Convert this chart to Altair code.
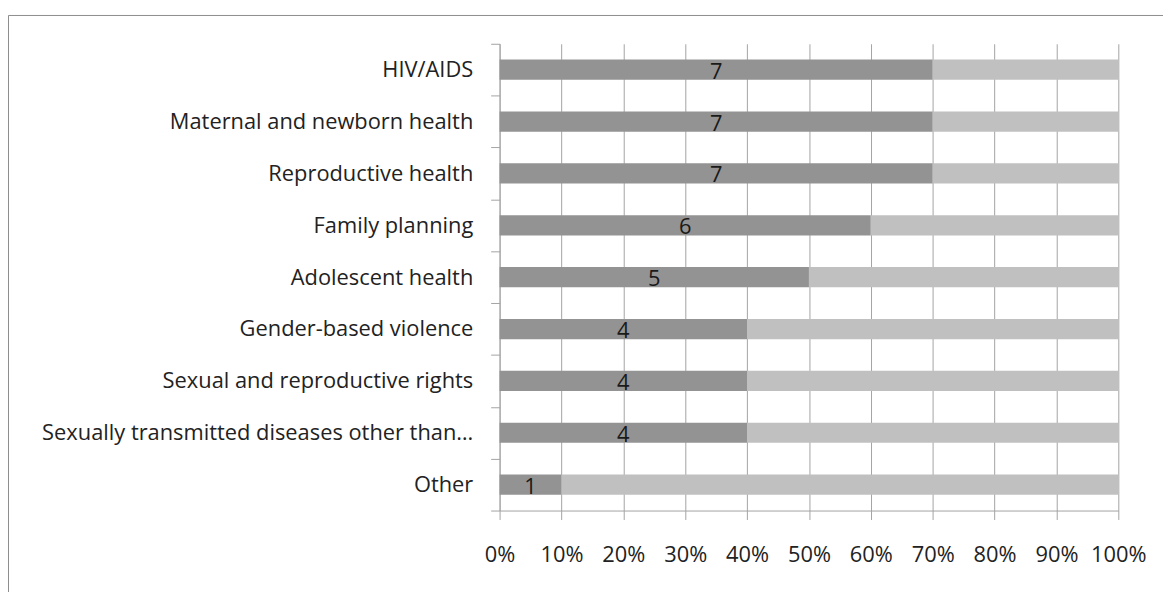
import altair as alt
import pandas as pd

categories = [
    "HIV/AIDS",
    "Maternal and newborn health",
    "Reproductive health",
    "Family planning",
    "Adolescent health",
    "Gender-based violence",
    "Sexual and reproductive rights",
    "Sexually transmitted diseases other than…",
    "Other",
]
yes_counts = [7, 7, 7, 6, 5, 4, 4, 4, 1]
no_counts = [3, 3, 3, 4, 5, 6, 6, 6, 9]
parts = ["Yes", "No"]
part_colors = ["#939393", "#c0c0c0"]
x_ticks = [0, 0.1, 0.2, 0.3, 0.4, 0.5, 0.6, 0.7, 0.8, 0.9, 1.0]

rows = []
for c, yv, nv in zip(categories, yes_counts, no_counts):
    rows.append({"category": c, "part": "Yes", "count": yv, "ord": 0})
    rows.append({"category": c, "part": "No", "count": nv, "ord": 1})
df = pd.DataFrame(rows)

FONT = "Open Sans"
GRID = "#a3a3a3"
TEXT = "#222222"

y_enc = alt.Y(
    "category:N",
    sort=categories,
    title=None,
    scale=alt.Scale(paddingInner=0, paddingOuter=0),
    axis=alt.Axis(
        tickBand="extent",
        labelFont=FONT,
        labelFontSize=22,
        labelColor=TEXT,
        labelPadding=18,
        labelLimit=700,
        labelBaseline="middle",
        tickSize=9,
        tickColor=GRID,
        domainColor=GRID,
        grid=False,
    ),
)

x_axis = alt.Axis(
    values=x_ticks,
    format=".0%",
    grid=True,
    gridColor=GRID,
    gridOpacity=1,
    tickSize=9,
    tickColor=GRID,
    domainColor=GRID,
    labelFont=FONT,
    labelFontSize=22,
    labelColor=TEXT,
    labelPadding=25,
    labelFlush=False,
)

bars = alt.Chart(df).mark_bar(height=alt.RelativeBandSize(band=0.39)).encode(
    x=alt.X(
        "count:Q",
        stack="normalize",
        title=None,
        scale=alt.Scale(domain=[0, 1], nice=False),
        axis=x_axis,
    ),
    y=y_enc,
    color=alt.Color(
        "part:N", scale=alt.Scale(domain=parts, range=part_colors), legend=None
    ),
    order=alt.Order("ord:Q"),
)

labels = (
    alt.Chart(df)
    .transform_joinaggregate(total="sum(count)", groupby=["category"])
    .transform_filter(alt.datum.part == "Yes")
    .transform_calculate(mid="datum.count / datum.total / 2")
    .mark_text(font=FONT, fontSize=22, color="#1a1a1a", baseline="middle", dy=2)
    .encode(
        x=alt.X("mid:Q"),
        y=alt.Y("category:N", sort=categories),
        text=alt.Text("count:Q"),
    )
)

frame = (
    alt.Chart(pd.DataFrame({"f": [0]}))
    .mark_rect(fill="white", fillOpacity=0, stroke="#8c8c8c", strokeWidth=1)
    .encode(
        x=alt.value(-494.5),
        x2=alt.value(720),
        y=alt.value(-28.5),
        y2=alt.value(620),
    )
)

chart = (
    alt.layer(frame, bars, labels)
    .properties(
        width=623,
        height=470,
        autosize=alt.AutoSizeParams(type="none"),
        padding={"left": 495, "top": 34, "right": 45, "bottom": 80},
        background="white",
    )
    .configure_view(strokeWidth=0)
)

chart.save("out.html", embed_options={"renderer": "svg", "actions": False})
